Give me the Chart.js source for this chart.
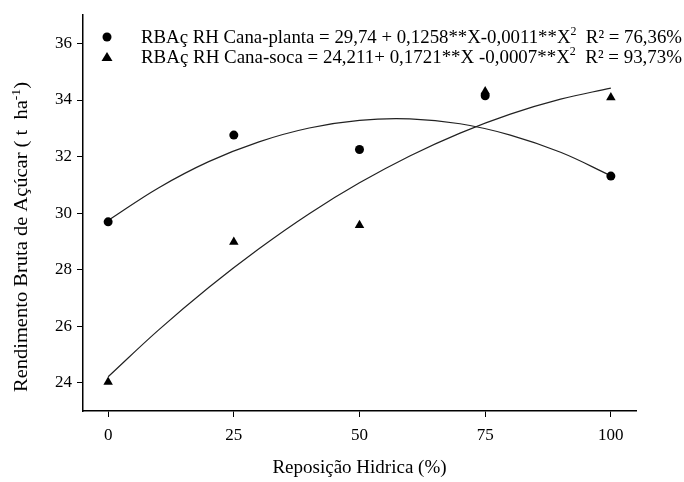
<!DOCTYPE html>
<html>
<head>
<meta charset="utf-8">
<script src="https://cdn.jsdelivr.net/npm/chart.js@4"></script>
<style>
  body { margin: 0; background: #fff; }
  #wrap { width: 684px; height: 482px; }
</style>
</head>
<body>
<div id="wrap"><canvas id="chart" width="684" height="482"></canvas></div>
<script>
// Reposição hídrica (%) and observed RBA values
const doses = [0, 25, 50, 75, 100];
const canaPlanta = [29.69, 32.76, 32.25, 34.15, 31.31];
const canaSoca = [24.03, 28.98, 29.57, 34.30, 34.09];

// fitted regression curves, sampled every 10 %
const curveX = [0, 10, 20, 30, 40, 50, 60, 70, 80, 90, 100];
const ajustePlanta = [29.74, 30.89, 31.82, 32.52, 33.01, 33.28, 33.33, 33.16, 32.76, 32.15, 31.32];
const ajusteSoca = [24.21, 25.86, 27.37, 28.74, 29.98, 31.07, 32.02, 32.83, 33.50, 34.03, 34.42];

const xTicks = [0, 25, 50, 75, 100];
const yTicks = [24, 26, 28, 30, 32, 34, 36];

const legendPlanta = ['RBAç RH Cana-planta = 29,74 + 0,1258**X-0,0011**X', '2', '  R² = 76,36%'];
const legendSoca = ['RBAç RH Cana-soca = 24,211+ 0,1721**X -0,0007**X', '2', '  R² = 93,73%'];
const yTitle = ['Rendimento Bruta de Açúcar ( t  ha', '-1', ')'];

const serif = "'Liberation Serif', 'Times New Roman', serif";

function toPoints(xs, ys) {
  return xs.map((x, i) => ({ x: x, y: ys[i] }));
}

// text run where the middle part is a superscript, fitted to a given width
function drawSupText(ctx, parts, x, y, width, size, supSize, rise) {
  ctx.save();
  const big = size + 'px ' + serif;
  const small = supSize + 'px ' + serif;
  let total = 0;
  parts.forEach((p, i) => {
    ctx.font = i === 1 ? small : big;
    total += ctx.measureText(p).width;
  });
  ctx.translate(x, y);
  ctx.scale(width / total, 1);
  ctx.fillStyle = '#000';
  let cx = 0;
  parts.forEach((p, i) => {
    ctx.font = i === 1 ? small : big;
    ctx.fillText(p, cx, i === 1 ? -rise : 0);
    cx += ctx.measureText(p).width;
  });
  ctx.restore();
}

const extras = {
  id: 'extras',
  afterDraw(chart) {
    const ctx = chart.ctx;
    // legend markers
    ctx.save();
    ctx.fillStyle = '#000';
    ctx.beginPath();
    ctx.arc(107, 37, 4.5, 0, Math.PI * 2);
    ctx.fill();
    ctx.beginPath();
    ctx.moveTo(107, 52);
    ctx.lineTo(112.5, 61);
    ctx.lineTo(101.5, 61);
    ctx.closePath();
    ctx.fill();
    ctx.restore();
    ctx.textBaseline = 'alphabetic';
    drawSupText(ctx, legendPlanta, 141, 43, 541, 19, 12, 8);
    drawSupText(ctx, legendSoca, 141, 63, 541, 19, 12, 8);

    // y axis title
    ctx.save();
    ctx.translate(27, 392);
    ctx.rotate(-Math.PI / 2);
    drawSupText(ctx, yTitle, 0, 0, 310, 18, 12, 7);
    ctx.restore();
  }
};

new Chart(document.getElementById('chart').getContext('2d'), {
  type: 'scatter',
  data: {
    datasets: [
      {
        label: 'Cana-planta',
        data: toPoints(doses, canaPlanta),
        pointStyle: 'circle',
        radius: 4.5,
        backgroundColor: '#000',
        borderColor: '#000',
        borderWidth: 0
      },
      {
        label: 'Cana-soca',
        data: toPoints(doses, canaSoca),
        pointStyle: 'triangle',
        radius: 5.5,
        backgroundColor: '#000',
        borderColor: '#000',
        borderWidth: 0
      },
      {
        label: 'Ajuste planta',
        type: 'line',
        data: toPoints(curveX, ajustePlanta),
        pointRadius: 0,
        borderColor: '#222',
        borderWidth: 1.2,
        tension: 0.4,
        fill: false
      },
      {
        label: 'Ajuste soca',
        type: 'line',
        data: toPoints(curveX, ajusteSoca),
        pointRadius: 0,
        borderColor: '#222',
        borderWidth: 1.2,
        tension: 0.4,
        fill: false
      }
    ]
  },
  options: {
    responsive: false,
    animation: false,
    layout: { padding: { top: 14, right: 48, left: 0, bottom: 0 } },
    plugins: {
      legend: { display: false },
      tooltip: { enabled: false }
    },
    scales: {
      x: {
        type: 'linear',
        min: -5,
        max: 105,
        afterBuildTicks: (scale) => { scale.ticks = xTicks.map(v => ({ value: v })); },
        afterFit: (scale) => { scale.height = 71; },
        grid: { display: true, drawOnChartArea: false, tickLength: 6, color: '#000', lineWidth: 1 },
        border: { display: true, color: '#000', width: 1.5 },
        ticks: { color: '#000', padding: 8, font: { family: serif, size: 17 } },
        title: {
          display: true,
          text: 'Reposição Hidrica (%)',
          color: '#000',
          font: { family: serif, size: 19 },
          padding: { top: 0, bottom: 3 }
        }
      },
      y: {
        min: 23,
        max: 37,
        afterBuildTicks: (scale) => { scale.ticks = yTicks.map(v => ({ value: v })); },
        afterFit: (scale) => { scale.width = 83; },
        grid: { display: true, drawOnChartArea: false, tickLength: 6, color: '#000', lineWidth: 1 },
        border: { display: true, color: '#000', width: 1.5 },
        ticks: { color: '#000', padding: 5, font: { family: serif, size: 17 } }
      }
    }
  },
  plugins: [extras]
});
</script>
</body>
</html>
